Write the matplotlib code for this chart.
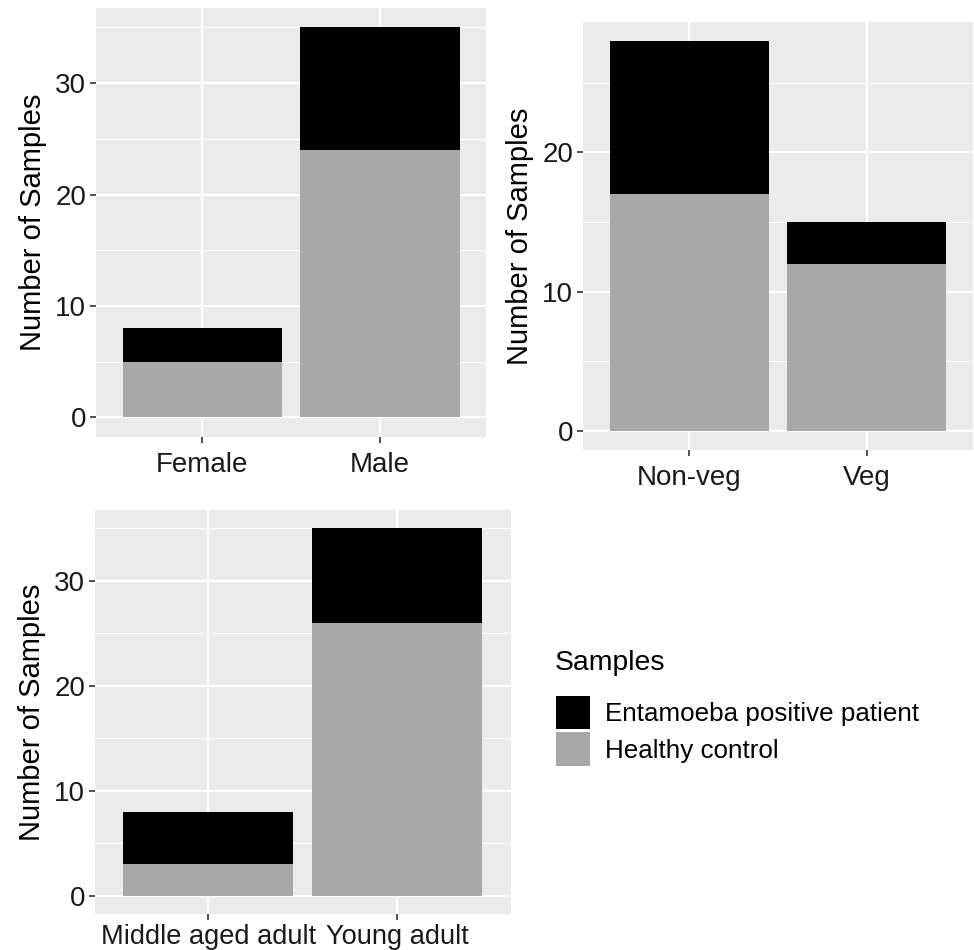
import matplotlib
matplotlib.use("Agg")
import matplotlib.pyplot as plt
from matplotlib.patches import Patch

plt.rcParams['font.family'] = ['Liberation Sans', 'DejaVu Sans']

# Data
sex_cats = ["Female", "Male"]
sex_healthy = [5, 24]
sex_patient = [3, 11]

diet_cats = ["Non-veg", "Veg"]
diet_healthy = [17, 12]
diet_patient = [11, 3]

age_cats = ["Middle aged adult", "Young adult"]
age_healthy = [3, 26]
age_patient = [5, 9]

legend_title = "Samples"
series_labels = ["Entamoeba positive patient", "Healthy control"]
c_patient = "#000000"
c_healthy = "#A8A8A8"
bg = "#EBEBEB"

fig = plt.figure(figsize=(9.74, 9.5), dpi=100)

def panel(rect, cats, healthy, patient, ticks, xpad=6.5, xsize=20):
    ax = fig.add_axes(rect)
    ax.set_facecolor(bg)
    x = list(range(len(cats)))
    ax.bar(x, healthy, width=0.9, color=c_healthy, zorder=3)
    ax.bar(x, patient, width=0.9, bottom=healthy, color=c_patient, zorder=3)
    tot = max(h + p for h, p in zip(healthy, patient))
    ax.set_xlim(-0.6, len(cats) - 0.4)
    ax.set_ylim(-0.05 * tot, 1.05 * tot)
    ax.set_xticks(x)
    ax.set_xticklabels(cats)
    ax.set_yticks(ticks)
    minor = [t + 5 for t in ticks if t + 5 <= 1.05 * tot]
    ax.set_yticks(minor, minor=True)
    ax.grid(True, which='major', color='white', linewidth=1.6, zorder=0)
    ax.grid(True, which='minor', axis='y', color='white', linewidth=0.8, zorder=0)
    ax.set_axisbelow(True)
    for s in ax.spines.values():
        s.set_visible(False)
    ax.tick_params(axis='both', which='major', length=4, width=1.2, color='#333333',
                   labelsize=20, labelcolor='#1a1a1a', pad=3)
    ax.tick_params(axis='x', which='major', pad=xpad, labelsize=xsize)
    ax.tick_params(axis='y', which='minor', length=0)
    ax.set_ylabel("Number of Samples", fontsize=21, labelpad=6)
    return ax

panel([0.0986, 0.54, 0.4005, 0.4516], sex_cats, sex_healthy, sex_patient, [0, 10, 20, 30])
panel([0.5986, 0.5263, 0.4004, 0.4508], diet_cats, diet_healthy, diet_patient, [0, 10, 20])
panel([0.0975, 0.0379, 0.4268, 0.4253], age_cats, age_healthy, age_patient, [0, 10, 20, 30],
      xpad=3.5, xsize=19.6)

fig.text(555 / 974, 1 - 663 / 950, legend_title, fontsize=20.4, ha='left', va='center')

handles = [Patch(facecolor=c_patient, edgecolor='none'),
           Patch(facecolor=c_healthy, edgecolor='none')]
leg = fig.legend(handles, series_labels, loc='upper left',
                 bbox_to_anchor=(556 / 974, 1 - 696 / 950), frameon=False,
                 fontsize=18.7, handlelength=1.31, handleheight=1.6,
                 labelspacing=0.12, handletextpad=0.58, borderpad=0, borderaxespad=0)

fig.savefig("out.png", dpi=100)
